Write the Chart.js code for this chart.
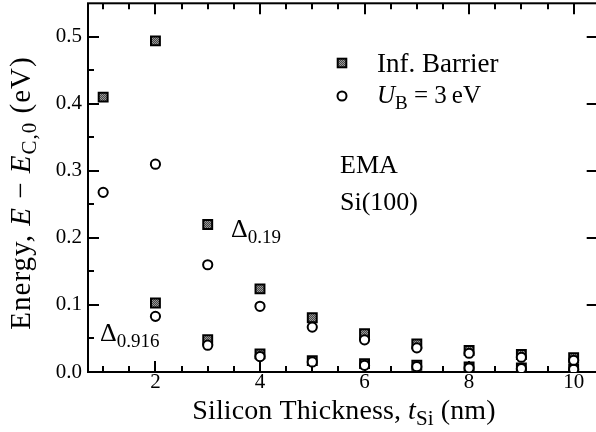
<!DOCTYPE html>
<html>
<head>
<meta charset="utf-8">
<script src="https://cdn.jsdelivr.net/npm/chart.js@4.4.0/dist/chart.umd.min.js"></script>
<style>
  html, body { margin: 0; padding: 0; overflow: hidden; background: #fff; }
  canvas { display: block; margin-top: -5px; }
</style>
</head>
<body>
<canvas id="chart" width="606" height="437"></canvas>
<script>
"use strict";

// silicon thickness (nm)
const thicknessAll = [1, 2, 3, 4, 5, 6, 7, 8, 9, 10];
const thicknessUpper = [2, 3, 4, 5, 6, 7, 8, 9, 10]; // Δ0.19 at 1 nm is off the plot

// energies (eV)
const infBarrierD019 = [0.494, 0.220, 0.124, 0.081, 0.057, 0.042, 0.032, 0.026, 0.0215];
const infBarrierD0916 = [0.410, 0.103, 0.048, 0.027, 0.017, 0.0125, 0.010, 0.0075, 0.006, 0.005];
const ub3D019 = [0.310, 0.160, 0.098, 0.067, 0.048, 0.036, 0.028, 0.022, 0.0175];
const ub3D0916 = [0.268, 0.083, 0.040, 0.023, 0.015, 0.010, 0.008, 0.006, 0.005, 0.004];

const xTickLabels = [2, 4, 6, 8, 10];
const yTickLabels = [0.0, 0.1, 0.2, 0.3, 0.4, 0.5];

const SERIF = "'Liberation Serif', 'DejaVu Serif', serif";
const SHIFT = 5; // canvas is pulled up by this much (see css)

function pairs(xs, ys) {
  return xs.map((x, i) => ({ x: x, y: ys[i] }));
}

// grey stipple fill for the squares
function stipple() {
  const c = document.createElement("canvas");
  c.width = 2;
  c.height = 2;
  const g = c.getContext("2d");
  g.fillStyle = "#9a9a9a";
  g.fillRect(0, 0, 2, 2);
  g.fillStyle = "#444";
  g.fillRect(0, 0, 1, 1);
  g.fillRect(1, 1, 1, 1);
  return g.createPattern(c, "repeat");
}
const squareFill = stipple();

// draw text made of pieces (italic / subscript), returns width
function richText(ctx, segs, x, y, size, measureOnly, spacing) {
  let cx = x;
  ctx.fillStyle = "#000";
  ctx.letterSpacing = (spacing || 0) + "px";
  segs.forEach(s => {
    const sz = s.sub ? Math.round(size * 0.74) : size;
    ctx.font = (s.it ? "italic " : "") + sz + "px " + SERIF;
    if (!measureOnly) {
      ctx.fillText(s.t, cx, s.sub ? y + size * 0.22 : y);
    }
    cx += ctx.measureText(s.t).width;
  });
  ctx.letterSpacing = "0px";
  return cx - x;
}

function drawSquare(ctx, x, y) {
  ctx.fillStyle = squareFill;
  ctx.fillRect(x - 4.3, y - 4.3, 8.6, 8.6);
  ctx.lineWidth = 2;
  ctx.strokeStyle = "#000";
  ctx.strokeRect(x - 4.3, y - 4.3, 8.6, 8.6);
}

function drawCircle(ctx, x, y) {
  ctx.beginPath();
  ctx.arc(x, y, 4.5, 0, Math.PI * 2);
  ctx.fillStyle = "#fff";
  ctx.fill();
  ctx.lineWidth = 2;
  ctx.strokeStyle = "#000";
  ctx.stroke();
}

// frame with inward ticks on all four sides
const framePlugin = {
  id: "frame",
  beforeDatasetsDraw(chart) {
    const ctx = chart.ctx;
    const a = chart.chartArea;
    const xs = chart.scales.x;
    const ys = chart.scales.y;
    ctx.save();
    ctx.strokeStyle = "#000";
    ctx.lineWidth = 2;
    ctx.strokeRect(a.left, a.top, a.right - a.left, a.bottom - a.top);

    ctx.beginPath();
    for (let v = 1; v <= 10.001; v += 0.5) {
      const px = Math.round(xs.getPixelForValue(v));
      const major = Math.abs(v / 2 - Math.round(v / 2)) < 1e-6;
      const len = major ? 11 : 6;
      ctx.moveTo(px, a.bottom);
      ctx.lineTo(px, a.bottom - len);
      ctx.moveTo(px, a.top);
      ctx.lineTo(px, a.top + len);
    }
    for (let v = 0.05; v <= 0.5001; v += 0.05) {
      const py = Math.round(ys.getPixelForValue(v));
      const major = Math.abs(v * 10 - Math.round(v * 10)) < 1e-6;
      const len = major ? 11 : 6;
      ctx.moveTo(a.left, py);
      ctx.lineTo(a.left + len, py);
      if (major) {
        ctx.moveTo(a.right, py);
        ctx.lineTo(a.right - len, py);
      }
    }
    ctx.stroke();
    ctx.restore();
  },
  afterDraw(chart) {
    const ctx = chart.ctx;
    ctx.save();
    ctx.translate(0, SHIFT);
    ctx.textBaseline = "alphabetic";
    ctx.textAlign = "left";

    // legend
    drawSquare(ctx, 342, 63);
    drawCircle(ctx, 342, 96);
    richText(ctx, [{ t: "Inf. Barrier" }], 377, 72, 27);
    richText(ctx, [{ t: "U", it: true }, { t: "B", sub: true }, { t: " = 3\u2009eV" }], 377, 103, 25);

    // annotations
    richText(ctx, [{ t: "EMA" }], 340, 173, 26);
    richText(ctx, [{ t: "Si(100)" }], 340, 210, 26);
    richText(ctx, [{ t: "\u0394" }, { t: "0.19", sub: true }], 231, 237, 26);
    richText(ctx, [{ t: "\u0394" }, { t: "0.916", sub: true }], 100, 341, 26);

    // x title
    const xt = [{ t: "Silicon Thickness, " }, { t: "t", it: true }, { t: "Si", sub: true }, { t: " (nm)" }];
    const xw = richText(ctx, xt, 0, 0, 28, true, 0.1);
    richText(ctx, xt, 344 - xw / 2, 419, 28, false, 0.1);

    // y title
    const yt = [{ t: "Energy, " }, { t: "E", it: true }, { t: " \u2212 " }, { t: "E", it: true },
      { t: "C,0", sub: true }, { t: " (eV)" }];
    const yw = richText(ctx, yt, 0, 0, 29, true, 1);
    ctx.translate(30, 193);
    ctx.rotate(-Math.PI / 2);
    richText(ctx, yt, -yw / 2, 0, 29, false, 1);
    ctx.restore();
  }
};

const squareStyle = {
  pointStyle: "rect",
  pointRadius: 6.3,
  pointHoverRadius: 6.3,
  pointBackgroundColor: squareFill,
  pointBorderColor: "#000",
  pointBorderWidth: 2,
  showLine: false,
  order: 1
};
const circleStyle = {
  pointStyle: "circle",
  pointRadius: 4.6,
  pointHoverRadius: 4.6,
  pointBackgroundColor: "#fff",
  pointBorderColor: "#000",
  pointBorderWidth: 2,
  showLine: false,
  order: 0
};

new Chart(document.getElementById("chart"), {
  type: "scatter",
  data: {
    datasets: [
      Object.assign({ label: "Inf. Barrier Δ0.19", data: pairs(thicknessUpper, infBarrierD019) }, squareStyle),
      Object.assign({ label: "Inf. Barrier Δ0.916", data: pairs(thicknessAll, infBarrierD0916) }, squareStyle),
      Object.assign({ label: "UB = 3 eV Δ0.19", data: pairs(thicknessUpper, ub3D019) }, circleStyle),
      Object.assign({ label: "UB = 3 eV Δ0.916", data: pairs(thicknessAll, ub3D0916) }, circleStyle)
    ]
  },
  options: {
    responsive: false,
    animation: false,
    devicePixelRatio: 1,
    layout: { padding: { top: 3, right: 4, left: 0, bottom: 0 } },
    plugins: {
      legend: { display: false },
      tooltip: { enabled: false }
    },
    scales: {
      x: {
        type: "linear",
        min: 0.71,
        max: 10.46,
        grid: { display: false, drawTicks: false },
        border: { display: false },
        afterBuildTicks: s => { s.ticks = xTickLabels.map(v => ({ value: v })); },
        afterFit: s => { s.height = 60; s.paddingLeft = 0; s.paddingRight = 0; },
        ticks: {
          padding: -2,
          color: "#000",
          font: { family: SERIF, size: 21 },
          callback: v => String(v)
        }
      },
      y: {
        type: "linear",
        min: 0,
        max: 0.55,
        grid: { display: false, drawTicks: false },
        border: { display: false },
        afterBuildTicks: s => { s.ticks = yTickLabels.map(v => ({ value: v })); },
        afterFit: s => { s.width = 88; s.paddingTop = 0; s.paddingBottom = 0; },
        ticks: {
          padding: 6,
          color: "#000",
          font: { family: SERIF, size: 21 },
          callback: v => v.toFixed(1)
        }
      }
    }
  },
  plugins: [framePlugin]
});
</script>
</body>
</html>
